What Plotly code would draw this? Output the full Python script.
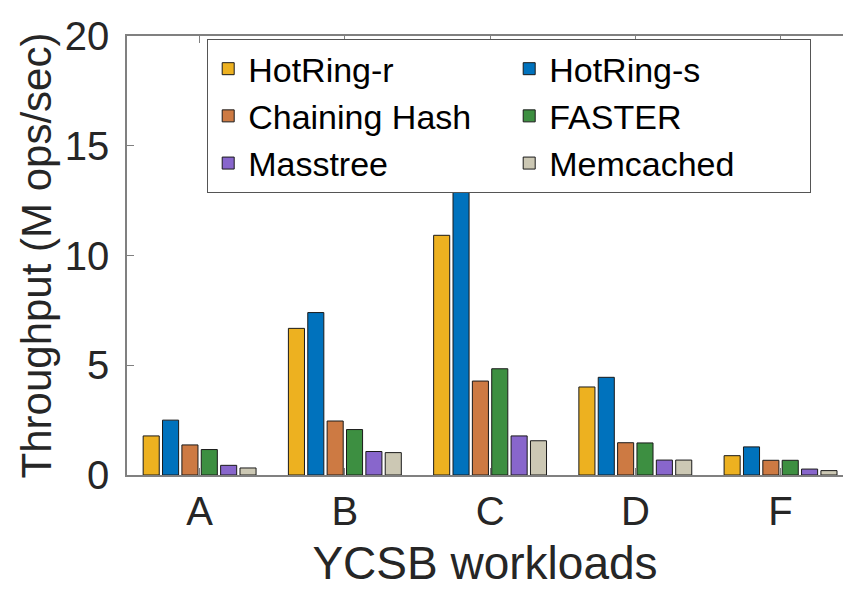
import plotly.graph_objects as go

workloads = ['A', 'B', 'C', 'D', 'F']

systems = ['HotRing-r', 'HotRing-s', 'Chaining Hash', 'FASTER', 'Masstree', 'Memcached']
colors = ['#EDB120', '#0072BD', '#CD7A43', '#3D8F41', '#8866CC', '#CCC8B4']

hotring_r = [1.78, 6.68, 10.92, 4.01, 0.88]
hotring_s = [2.50, 7.40, 12.89, 4.45, 1.28]
chaining_hash = [1.37, 2.46, 4.28, 1.47, 0.67]
faster = [1.16, 2.07, 4.84, 1.46, 0.67]
masstree = [0.44, 1.07, 1.78, 0.68, 0.27]
memcached = [0.32, 1.02, 1.56, 0.68, 0.20]

series = [hotring_r, hotring_s, chaining_hash, faster, masstree, memcached]

fig = go.Figure()
for name, vals, col in zip(systems, series, colors):
    fig.add_trace(go.Bar(
        x=workloads, y=vals, name=name,
        marker=dict(color=col, line=dict(color='#1a1a1a', width=1))
    ))

font_family = 'Liberation Sans, Arial, sans-serif'
fig.update_layout(
    width=843, height=589,
    margin=dict(l=127, r=0, t=36, b=114),
    plot_bgcolor='white', paper_bgcolor='white',
    barmode='group', bargap=0.2, bargroupgap=0.17,
    font=dict(family=font_family, color='#262626'),
    showlegend=True,
    legend=dict(
        orientation='h', x=0.112, y=0.993, xanchor='left', yanchor='top',
        entrywidth=256, entrywidthmode='pixels',
        bgcolor='white', bordercolor='#555555', borderwidth=1,
        font=dict(size=34, color='black', family=font_family),
        traceorder='normal', tracegroupgap=0,
    ),
)
fig.update_xaxes(
    range=[-0.5, 4.43],
    showline=True, linecolor='#808080', linewidth=1.5, mirror='ticks',
    ticks='inside', ticklen=7, tickcolor='#808080',
    tickfont=dict(size=40), showgrid=False,
    title=dict(text='YCSB workloads', font=dict(size=46), standoff=23),
)
fig.update_yaxes(
    range=[0, 20], tickvals=[0, 5, 10, 15, 20],
    showline=True, linecolor='#808080', linewidth=1.5, mirror=False,
    ticks='inside', ticklen=7, tickcolor='#808080',
    tickfont=dict(size=40), showgrid=False, zeroline=False,
    ticklabelstandoff=8,
    title=dict(text='Throughput (M ops/sec)', font=dict(size=42), standoff=0),
)

# drop the default 8px page margin so the figure sits at the window corner
fig.write_html("out.html", config={'displayModeBar': False},
               post_script="document.body.style.margin='0px';")
